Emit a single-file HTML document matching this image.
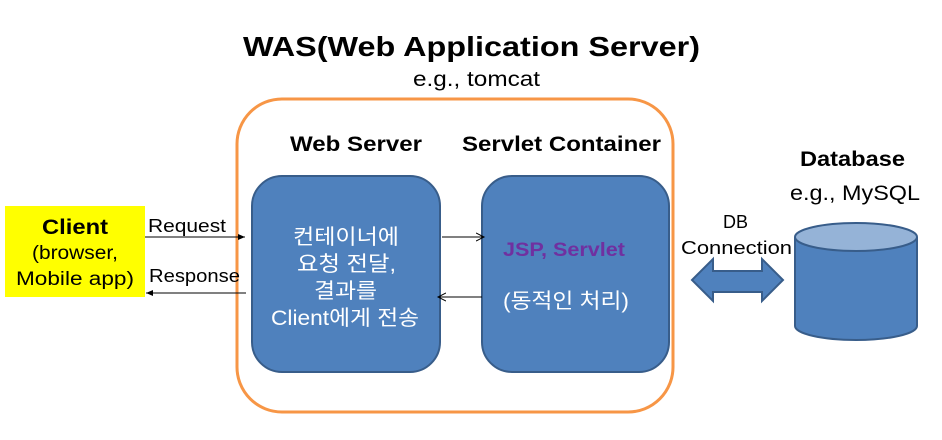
<!DOCTYPE html>
<html><head><meta charset="utf-8"><style>
html,body{margin:0;padding:0;background:#fff;width:942px;height:440px;overflow:hidden}
svg text{font-family:"Liberation Sans","Noto Sans CJK KR",sans-serif}
</style></head><body>
<svg width="942" height="440" xmlns="http://www.w3.org/2000/svg">
<defs>
<marker id="a" markerWidth="8" markerHeight="8" refX="7" refY="4" orient="auto" markerUnits="userSpaceOnUse"><path d="M0,1 L7,4 L0,7 z" fill="#000"/></marker>
<marker id="o" markerWidth="10" markerHeight="10" refX="8" refY="5" orient="auto" markerUnits="userSpaceOnUse"><path d="M0,1 L8,5 L0,9" fill="none" stroke="#000" stroke-width="1"/></marker>
</defs>
<text x="243" y="56" font-size="28" font-weight="bold" textLength="457" lengthAdjust="spacingAndGlyphs">WAS(Web Application Server)</text>
<text x="413" y="86" font-size="21" textLength="127" lengthAdjust="spacingAndGlyphs">e.g., tomcat</text>
<rect x="237" y="99" width="436" height="313" rx="45" fill="none" stroke="#F79646" stroke-width="3"/>
<text x="290" y="151" font-size="21" font-weight="bold" textLength="132" lengthAdjust="spacingAndGlyphs">Web Server</text>
<text x="462" y="151" font-size="21" font-weight="bold" textLength="199" lengthAdjust="spacingAndGlyphs">Servlet Container</text>
<rect x="252" y="176" width="188" height="196" rx="30" fill="#4F81BD" stroke="#385D8A" stroke-width="2"/>
<rect x="482" y="176" width="187" height="196" rx="30" fill="#4F81BD" stroke="#385D8A" stroke-width="2"/>
<g fill="#fff" font-size="21">
<text x="293" y="244" textLength="106" lengthAdjust="spacingAndGlyphs">컨테이너에</text>
<text x="297" y="271" textLength="99" lengthAdjust="spacingAndGlyphs">요청 전달,</text>
<text x="314" y="298" textLength="63" lengthAdjust="spacingAndGlyphs">결과를</text>
<text x="271" y="325" textLength="148" lengthAdjust="spacingAndGlyphs">Client에게 전송</text>
<text x="503" y="308" textLength="126" lengthAdjust="spacingAndGlyphs">(동적인 처리)</text>
</g>
<text x="503" y="256" font-size="19" font-weight="bold" fill="#7030A0" textLength="122" lengthAdjust="spacingAndGlyphs">JSP, Servlet</text>
<line x1="442" y1="237" x2="484" y2="237" stroke="#000" marker-end="url(#o)"/>
<line x1="482" y1="297" x2="438" y2="297" stroke="#000" marker-end="url(#o)"/>
<rect x="5" y="206" width="140" height="91" fill="#FFFF00"/>
<text x="42" y="234" font-size="21" font-weight="bold" textLength="66" lengthAdjust="spacingAndGlyphs">Client</text>
<text x="32" y="259" font-size="19" textLength="86" lengthAdjust="spacingAndGlyphs">(browser,</text>
<text x="16" y="285" font-size="19" textLength="118" lengthAdjust="spacingAndGlyphs">Mobile app)</text>
<text x="148" y="232" font-size="18" textLength="78" lengthAdjust="spacingAndGlyphs">Request</text>
<line x1="145" y1="237" x2="245" y2="237" stroke="#000" marker-end="url(#a)"/>
<text x="149" y="282" font-size="18" textLength="91" lengthAdjust="spacingAndGlyphs">Response</text>
<line x1="246" y1="293" x2="146" y2="293" stroke="#000" marker-end="url(#a)"/>
<text x="800" y="166" font-size="21" font-weight="bold" textLength="105" lengthAdjust="spacingAndGlyphs">Database</text>
<text x="790" y="200" font-size="21" textLength="130" lengthAdjust="spacingAndGlyphs">e.g., MySQL</text>
<text x="723" y="228" font-size="18" textLength="25" lengthAdjust="spacingAndGlyphs">DB</text>
<text x="681" y="254" font-size="18" textLength="111" lengthAdjust="spacingAndGlyphs">Connection</text>
<path d="M692,280 L713,259 L713,271 L762,271 L762,259 L783,280 L762,301 L762,292 L713,292 L713,301 Z" fill="#4F81BD" stroke="#385D8A" stroke-width="2"/>
<path d="M795,237 L795,326 A61,14 0 0 0 917,326 L917,237" fill="#4F81BD" stroke="#385D8A" stroke-width="2"/>
<ellipse cx="856" cy="237" rx="61" ry="14" fill="#95B3D7" stroke="#385D8A" stroke-width="2"/>
</svg>
</body></html>
